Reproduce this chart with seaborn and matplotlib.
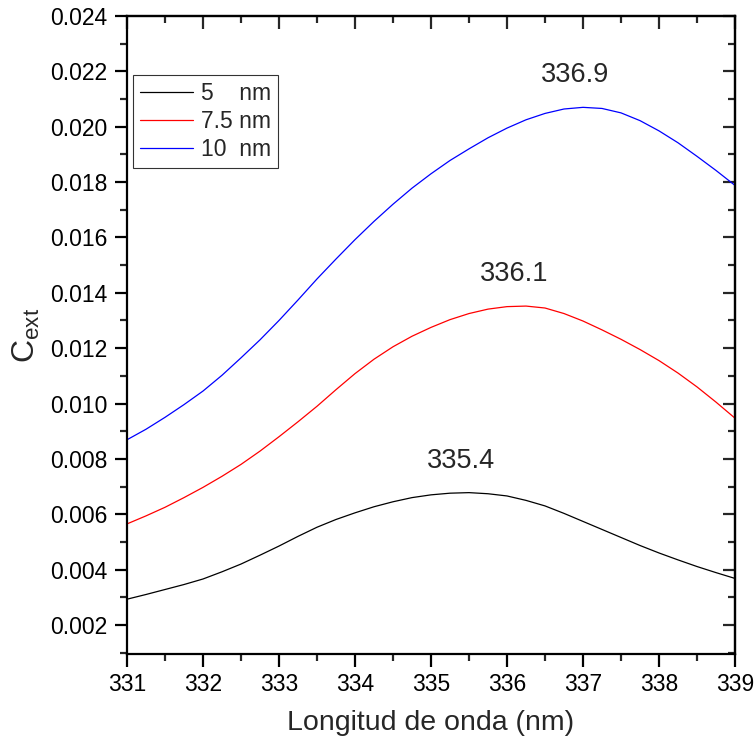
import numpy as np
import pandas as pd
import matplotlib
matplotlib.use("Agg")
import matplotlib.pyplot as plt
import seaborn as sns
from matplotlib.ticker import MultipleLocator, FormatStrFormatter

# wavelength grid (nm) and extinction cross-sections
wavelength = [331.00, 331.25, 331.50, 331.75, 332.00, 332.25, 332.50, 332.75, 333.00,
              333.25, 333.50, 333.75, 334.00, 334.25, 334.50, 334.75, 335.00,
              335.25, 335.50, 335.75, 336.00, 336.25, 336.50, 336.75, 337.00,
              337.25, 337.50, 337.75, 338.00, 338.25, 338.50, 338.75, 339.00]
c_ext_5nm = [0.00293, 0.00310, 0.00328, 0.00346, 0.00366, 0.00392, 0.00420, 0.00452, 0.00485,
             0.00520, 0.00553, 0.00581, 0.00605, 0.00627, 0.00645, 0.00660, 0.00670,
             0.00676, 0.00678, 0.00674, 0.00666, 0.00650, 0.00630, 0.00603, 0.00574,
             0.00545, 0.00516, 0.00487, 0.00460, 0.00435, 0.00411, 0.00389, 0.00368]
c_ext_7_5nm = [0.00565, 0.00594, 0.00625, 0.00660, 0.00697, 0.00737, 0.00780, 0.00828, 0.00880,
               0.00934, 0.00990, 0.01050, 0.01108, 0.01160, 0.01205, 0.01243, 0.01275,
               0.01303, 0.01325, 0.01341, 0.01350, 0.01352, 0.01345, 0.01325, 0.01298,
               0.01266, 0.01232, 0.01195, 0.01155, 0.01110, 0.01060, 0.01005, 0.00947]
c_ext_10nm = [0.00869, 0.00907, 0.00950, 0.00996, 0.01045, 0.01102, 0.01165, 0.01230, 0.01300,
              0.01374, 0.01450, 0.01522, 0.01592, 0.01658, 0.01720, 0.01778, 0.01830,
              0.01878, 0.01920, 0.01960, 0.01995, 0.02025, 0.02048, 0.02064, 0.02070,
              0.02066, 0.02050, 0.02022, 0.01985, 0.01942, 0.01893, 0.01842, 0.01788]

series_labels = ["5    nm", "7.5 nm", "10  nm"]
series_colors = ["black", "red", "blue"]
peak_wavelengths = [335.4, 336.1, 336.9]
peak_values = [0.00678, 0.01352, 0.02070]
peak_texts = ["335.4", "336.1", "336.9"]

n = len(wavelength)
df = pd.DataFrame({
    "wl": wavelength * 3,
    "cext": c_ext_5nm + c_ext_7_5nm + c_ext_10nm,
    "size": [series_labels[0]] * n + [series_labels[1]] * n + [series_labels[2]] * n,
})

sns.set_style("ticks")
plt.rcParams["font.family"] = ["Liberation Sans", "DejaVu Sans"]
plt.rcParams["mathtext.fontset"] = "custom"
plt.rcParams["mathtext.rm"] = "Liberation Sans"

fig = plt.figure(figsize=(7.54, 7.42), dpi=100)
ax = fig.add_axes([127 / 754, 1 - 654 / 742, 608 / 754, 638 / 742])

sns.lineplot(data=df, x="wl", y="cext", hue="size", hue_order=series_labels,
             palette=series_colors, linewidth=0.9, ax=ax, legend=True)

ax.set_xlim(331, 339)
ax.set_ylim(0.00095, 0.024)
ax.xaxis.set_major_locator(MultipleLocator(1))
ax.xaxis.set_minor_locator(MultipleLocator(0.5))
ax.yaxis.set_major_locator(MultipleLocator(0.002))
ax.yaxis.set_minor_locator(MultipleLocator(0.001))
ax.yaxis.set_major_formatter(FormatStrFormatter("%.3f"))

for sp in ax.spines.values():
    sp.set_visible(True)
    sp.set_linewidth(1.6)
    sp.set_color("black")

ax.tick_params(which="major", direction="out", length=9, width=1.6, labelsize=16.5, pad=5,
               colors="black")
ax.tick_params(which="minor", direction="out", length=5, width=1.6)

# inward ticks mirrored on top and right
top = ax.secondary_xaxis("top")
top.xaxis.set_major_locator(MultipleLocator(1))
top.xaxis.set_minor_locator(MultipleLocator(0.5))
top.tick_params(which="major", direction="in", length=9, width=1.6, labeltop=False)
top.tick_params(which="minor", direction="in", length=5, width=1.6)
right = ax.secondary_yaxis("right")
right.yaxis.set_major_locator(MultipleLocator(0.002))
right.yaxis.set_minor_locator(MultipleLocator(0.001))
right.tick_params(which="major", direction="in", length=9, width=1.6, labelright=False)
right.tick_params(which="minor", direction="in", length=5, width=1.6)
for sec in (top, right):
    for sp in sec.spines.values():
        sp.set_linewidth(1.6)

ax.set_xlabel("Longitud de onda (nm)", fontsize=20.5, labelpad=10)
ax.set_ylabel(r"C$_{\mathregular{ext}}$", fontsize=23, labelpad=6)

for x, y, t in zip(peak_wavelengths, peak_values, peak_texts):
    ax.annotate(t, xy=(x, y), xytext=(0, 23), textcoords="offset points",
                ha="center", va="center", fontsize=19.5)

leg = ax.legend(loc="upper left", bbox_to_anchor=(0.01, 0.9075), frameon=True,
                fancybox=False, edgecolor="black", fontsize=16.5, handlelength=2.3,
                borderpad=0.3, labelspacing=0.22, handletextpad=0.35, borderaxespad=0)
leg.get_frame().set_linewidth(0.8)
leg.set_title(None)

fig.savefig("out.png", dpi=100)
